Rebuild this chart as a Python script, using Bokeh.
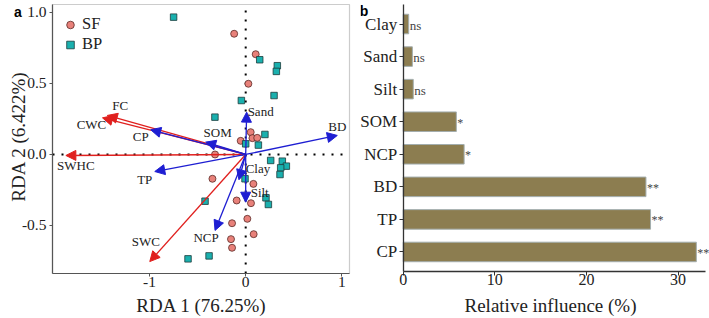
import math
from bokeh.plotting import figure
from bokeh.models import (Range1d, FixedTicker, Arrow, NormalHead, BoxAnnotation,
                          ColumnDataSource, Label, LabelSet, Legend, LegendItem,
                          NumeralTickFormatter)
from bokeh.layouts import row
from bokeh.embed import file_html
from bokeh.resources import INLINE
from bokeh.core.properties import value

# ---------------- Panel a data (RDA biplot) ----------------
sf_x = [-0.12, 0.104, 0.028, 0.052, 0.07, 0.12, -0.052, -0.319, -0.346, 0.08,
        -0.094, 0.055, 0.017, -0.142, 0.083, -0.153, -0.142]
sf_y = [0.85, 0.706, 0.498, 0.157, 0.115, 0.117, 0.096, 0.0, -0.171, -0.207,
        -0.324, -0.343, -0.453, -0.484, -0.561, -0.596, -0.657]
bp_x = [-0.75, 0.146, 0.329, 0.319, 0.295, -0.045, -0.32, 0.2, 0.132, 0.0,
        0.26, 0.381, 0.423, 0.364, 0.357, -0.007, 0.211, 0.236, -0.423, -0.381, -0.6]
bp_y = [0.967, 0.667, 0.625, 0.585, 0.415, 0.38, 0.263, 0.141, 0.066, 0.075,
        -0.042, -0.047, -0.082, -0.094, -0.141, -0.171, -0.305, -0.352, -0.329, -0.714, -0.735]

resp_names = ["FC", "CWC", "SWHC", "SWC"]
resp_x = [-1.44, -1.49, -1.871, -0.998]
resp_y = [0.275, 0.258, -0.007, -0.754]

expl_names = ["Sand", "BD", "SOM", "CP", "TP", "NCP", "Clay", "Silt"]
expl_x = [0.01, 0.953, -0.416, -0.988, -0.946, -0.319, -0.07, 0.0]
expl_y = [0.298, 0.134, 0.087, 0.174, -0.12, -0.535, -0.178, -0.336]

# label nudges (screen pixels, right / up)
resp_dx = [13, -11, 10, -4]
resp_dy = [10, -7, -10, 20]
expl_dx = [14, 0, 12, -10, -10, -9, 19, 14]
expl_dy = [1, 9, 10, -7, -8, -7, 11, 10]

x_title_a = "RDA 1 (76.25%)"
y_title_a = "RDA 2 (6.422%)"
a_xticks = [-1, 0, 1]
a_yticks = [-0.5, 0, 0.5, 1.0]
A_XMIN, A_XMAX = -2.01, 1.08
A_YMIN, A_YMAX = -0.838, 1.056

# ---------------- Panel b data ----------------
variables = ["Clay", "Sand", "Silt", "SOM", "NCP", "BD", "TP", "CP"]
influence = [0.6, 1.0, 1.1, 5.8, 6.65, 26.5, 27.0, 32.0]
signif = ["ns", "ns", "ns", "*", "*", "**", "**", "**"]
x_title_b = "Relative influence (%)"
b_xticks = [0, 10, 20, 30]
B_XMAX = 33.0

SERIF = "Liberation Serif"
SANS = "Liberation Sans"
RED = "#E0201E"
BLUE = "#1E1ED2"
FRAME = "#555555"
TXT = "#222222"

# ================= Panel a =================
W_A, H = 360, 318
A_L, A_R, A_T, A_B = 52, 349, 4, 273          # pixel box of the biplot
a_ppx = (A_R - A_L) / (A_XMAX - A_XMIN)
a_ppy = (A_B - A_T) / (A_YMAX - A_YMIN)


def a_x(px):
    return A_XMIN + (px - A_L) / a_ppx


def a_y(py):
    return A_YMAX - (py - A_T) / a_ppy


pa = figure(width=W_A, height=H, x_range=Range1d(a_x(0), a_x(W_A)), y_range=Range1d(a_y(H), a_y(0)),
            output_backend="svg", toolbar_location=None,
            min_border_left=0, min_border_right=0, min_border_top=0, min_border_bottom=0)
pa.grid.visible = False
pa.outline_line_color = None
pa.background_fill_color = "white"

for ax in (pa.xaxis[0], pa.yaxis[0]):
    ax.axis_line_color = FRAME
    ax.axis_line_width = 1.2
    ax.major_tick_line_color = FRAME
    ax.major_tick_out = 3
    ax.major_tick_in = 0
    ax.minor_tick_line_color = None
    ax.major_label_text_font = SERIF
    ax.major_label_text_font_size = "15.5px"
    ax.major_label_text_color = TXT
pa.xaxis.major_label_standoff = 0
pa.yaxis.major_label_standoff = 3
pa.xaxis.ticker = FixedTicker(ticks=a_xticks)
pa.xaxis.formatter = NumeralTickFormatter(format="0")
pa.xaxis.bounds = (A_XMIN, A_XMAX)
pa.xaxis.fixed_location = A_YMIN
pa.yaxis.ticker = FixedTicker(ticks=a_yticks)
pa.yaxis.formatter = NumeralTickFormatter(format="0.0")
pa.yaxis.bounds = (A_YMIN, A_YMAX)
pa.yaxis.fixed_location = A_XMIN

pa.add_layout(BoxAnnotation(left=A_XMIN, right=A_XMAX, bottom=A_YMIN, top=A_YMAX,
                            fill_alpha=0, line_color=FRAME, line_width=1.2, level="underlay"))

# dotted zero lines, spanning the box
pa.segment(x0=[A_XMIN, 0], y0=[0, A_YMIN], x1=[A_XMAX, 0], y1=[0, A_YMAX],
           line_color="black", line_width=2, line_dash="2 7")

r_sf = pa.scatter(sf_x, sf_y, marker="circle", size=7, fill_color="#E8817A",
                  line_color="#5a2a26", line_width=0.8)
r_bp = pa.scatter(bp_x, bp_y, marker="square", size=6.5, fill_color="#1AB0AE",
                  line_color="#1d3b3b", line_width=0.8)

resp_src = ColumnDataSource(dict(x0=[0] * len(resp_x), y0=[0] * len(resp_y), x=resp_x, y=resp_y,
                                 name=resp_names, dx=resp_dx, dy=resp_dy))
expl_src = ColumnDataSource(dict(x0=[0] * len(expl_x), y0=[0] * len(expl_y), x=expl_x, y=expl_y,
                                 name=expl_names, dx=expl_dx, dy=expl_dy))

pa.add_layout(Arrow(x_start="x0", y_start="y0", x_end="x", y_end="y", source=resp_src,
                    line_color=RED, line_width=1.3,
                    end=NormalHead(size=10, fill_color=RED, line_color=RED, line_width=1)))
pa.add_layout(Arrow(x_start="x0", y_start="y0", x_end="x", y_end="y", source=expl_src,
                    line_color=BLUE, line_width=1.3,
                    end=NormalHead(size=10, fill_color=BLUE, line_color=BLUE, line_width=1)))

for src in (resp_src, expl_src):
    pa.add_layout(LabelSet(x="x", y="y", text="name", source=src, x_offset="dx", y_offset="dy",
                           text_font=value(SERIF), text_font_size=value("13px"),
                           text_color=TXT, text_align="center", text_baseline="middle"))

# legend: bottom-left corner given in screen px from the frame's bottom-left
leg = Legend(items=[LegendItem(label="SF", renderers=[r_sf]), LegendItem(label="BP", renderers=[r_bp])],
             location=(58, H - 54), margin=0, padding=0, spacing=0, glyph_width=24, glyph_height=19,
             label_height=17, label_standoff=0, label_text_font=SERIF, label_text_font_size="16.5px",
             label_text_color=TXT, label_text_baseline="middle",
             border_line_alpha=0, background_fill_alpha=0)
pa.add_layout(leg)

# axis titles and panel letter
pa.add_layout(Label(x=a_x(201), y=a_y(305), text=x_title_a, text_font=SERIF, text_font_size="19px",
                    text_color=TXT, text_align="center", text_baseline="alphabetic"))
pa.add_layout(Label(x=a_x(18), y=a_y(136), text=y_title_a, text_font=SERIF, text_font_size="19px",
                    text_color=TXT, text_align="center", text_baseline="alphabetic", angle=math.pi / 2))
pa.add_layout(Label(x=a_x(17.5), y=a_y(11.5), text="a", text_font=SANS, text_font_style="bold",
                    text_font_size="14px", text_align="center", text_baseline="middle", text_color="black"))

# ================= Panel b =================
W_B = 349
B_OFF = 360                                   # left edge of panel b in the page
B_X0, B_XE = 402.7, 705.0                     # pixel of x = 0 and x = B_XMAX
B_T, B_B = 4, 271
n = len(variables)
ypos = [n - i for i in range(n)]              # Clay on top, CP at bottom
B_YMIN, B_YMAX = 1 - 0.6, n + 0.6
b_ppx = (B_XE - B_X0) / B_XMAX
b_ppy = (B_B - B_T) / (B_YMAX - B_YMIN)


def b_x(px):
    return (px - B_X0) / b_ppx


def b_y(py):
    return B_YMAX - (py - B_T) / b_ppy


pb = figure(width=W_B, height=H, x_range=Range1d(b_x(B_OFF), b_x(B_OFF + W_B)),
            y_range=Range1d(b_y(H), b_y(0)),
            output_backend="svg", toolbar_location=None,
            min_border_left=0, min_border_right=0, min_border_top=0, min_border_bottom=0)
pb.grid.visible = False
pb.outline_line_color = None
pb.background_fill_color = "white"

for ax in (pb.xaxis[0], pb.yaxis[0]):
    ax.axis_line_color = "#333333"
    ax.axis_line_width = 1.3
    ax.major_tick_line_color = "#333333"
    ax.major_tick_out = 4
    ax.major_tick_in = 0
    ax.minor_tick_line_color = None
    ax.major_label_text_font = SERIF
    ax.major_label_text_color = TXT
pb.xaxis.major_label_text_font_size = "16px"
pb.yaxis.major_label_text_font_size = "17px"
pb.xaxis.major_label_standoff = -2
pb.yaxis.major_label_standoff = 2
pb.xaxis.ticker = FixedTicker(ticks=b_xticks)
pb.xaxis.bounds = (0, B_XMAX)
pb.xaxis.fixed_location = B_YMIN
pb.yaxis.ticker = FixedTicker(ticks=ypos)
pb.yaxis.major_label_overrides = {p: v for p, v in zip(ypos, variables)}
pb.yaxis.bounds = (B_YMIN, B_YMAX)
pb.yaxis.fixed_location = 0

sig_size = ["13px" if s == "ns" else "12px" for s in signif]
bsrc = ColumnDataSource(dict(pos=ypos, var=variables, val=influence, sig=signif, fs=sig_size))
pb.hbar(y="pos", right="val", left=0, height=0.6, source=bsrc,
        fill_color="#8C7D50", line_color="#A3AEAE", line_width=1)
pb.add_layout(LabelSet(x="val", y="pos", text="sig", source=bsrc, x_offset=1, y_offset=-1,
                       text_font=value(SERIF), text_font_size="fs", text_color="#444444",
                       text_align="left", text_baseline="middle"))

pb.add_layout(Label(x=b_x(550), y=b_y(305), text=x_title_b, text_font=SERIF, text_font_size="19px",
                    text_color=TXT, text_align="center", text_baseline="alphabetic"))
pb.add_layout(Label(x=b_x(363.5), y=b_y(10), text="b", text_font=SANS, text_font_style="bold",
                    text_font_size="14px", text_align="center", text_baseline="middle", text_color="black"))

layout = row(pa, pb)
open("out.html", "w").write(file_html(layout, INLINE))
